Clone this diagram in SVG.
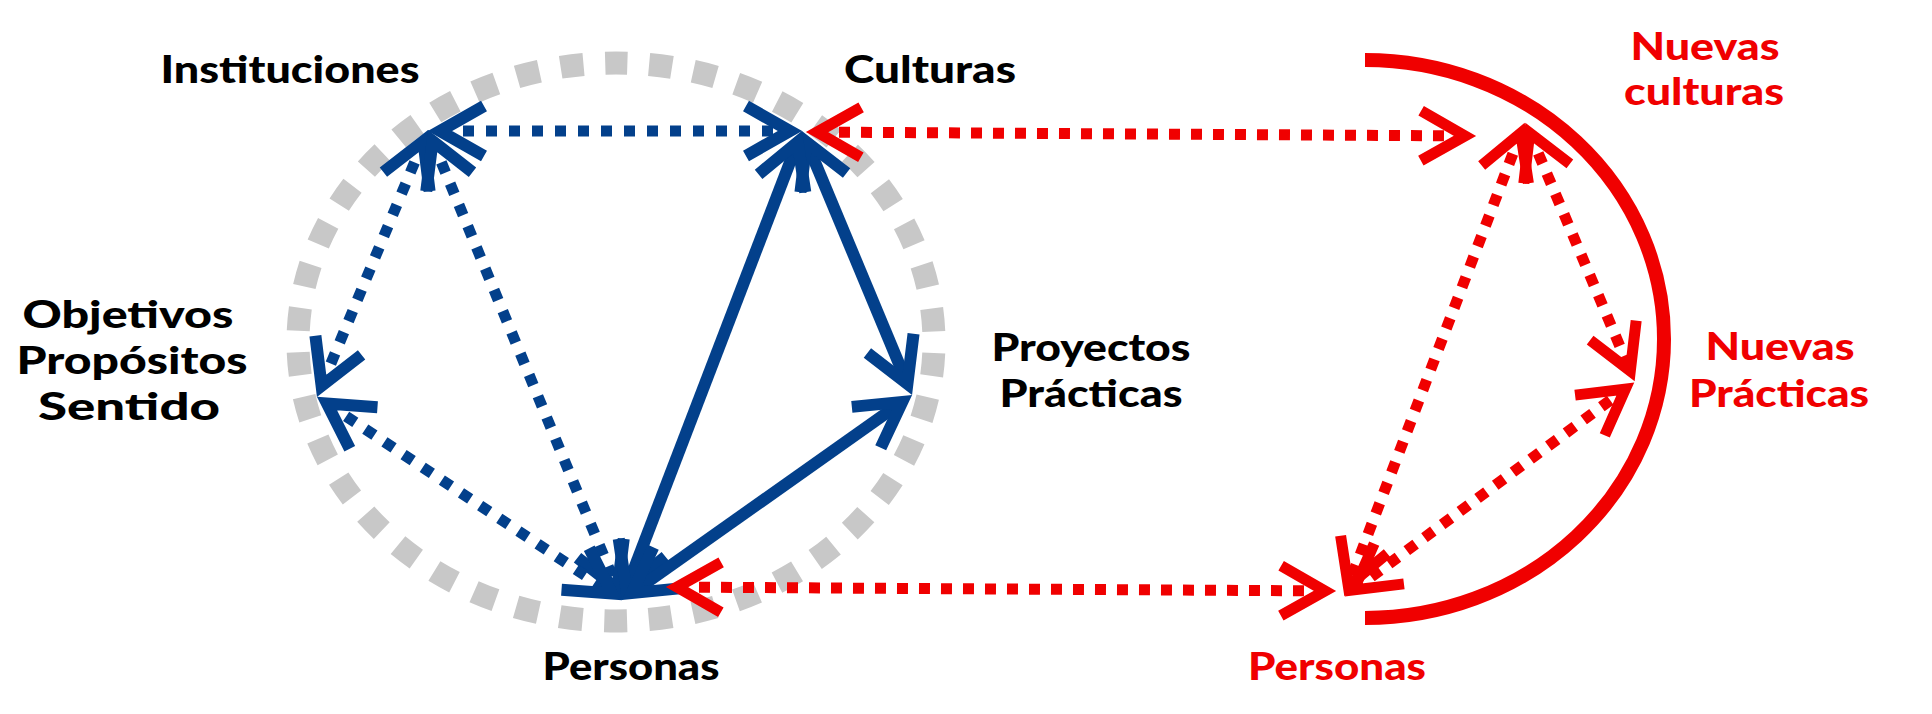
<svg xmlns="http://www.w3.org/2000/svg" width="1932" height="714" viewBox="0 0 1932 714">
<style>
.lbl{font-family:Lato,"Open Sans","Liberation Sans",sans-serif;font-weight:900;font-size:37px;text-anchor:middle}
.blk{fill:#000}
.red{fill:#f00000}
.bd{fill:none;stroke:#03408b;stroke-width:11;stroke-dasharray:11 12}
.bs{fill:none;stroke:#03408b;stroke-width:12}
.rd{fill:none;stroke:#f00000;stroke-width:11;stroke-dasharray:11 11}
</style>
<defs>
<marker id="hb" markerUnits="userSpaceOnUse" orient="auto-start-reverse" refX="0" refY="0" markerWidth="10" markerHeight="10" overflow="visible">
<path d="M-44,-25 L0,0 L-44,25" fill="none" stroke="#03408b" stroke-width="12" stroke-linejoin="miter"/>
</marker>
<marker id="hr" markerUnits="userSpaceOnUse" orient="auto-start-reverse" refX="0" refY="0" markerWidth="10" markerHeight="10" overflow="visible">
<path d="M-44,-25 L0,0 L-44,25" fill="none" stroke="#f00000" stroke-width="11" stroke-linejoin="miter"/>
</marker>
</defs>
<rect width="1932" height="714" fill="#fff"/>
<g id="ring">
<path d="M616,63 A318,279 0 1 1 616,621 A318,279 0 1 1 616,63 Z" fill="none" stroke="#c8c8c8" stroke-width="23" stroke-dasharray="23 21.7" stroke-dashoffset="11.5"/>
</g>
<g id="arc">
<path d="M1365,60 A299,279 0 0 1 1365,618" fill="none" stroke="#f00000" stroke-width="14"/>
</g>
<g id="connectors">
<line class="bd" x1="440" y1="131" x2="790" y2="131" marker-start="url(#hb)" marker-end="url(#hb)"/>
<line class="bd" x1="423.4" y1="141.1" x2="321.6" y2="385.9" marker-start="url(#hb)" marker-end="url(#hb)"/>
<line class="bd" x1="432.6" y1="141.1" x2="617.4" y2="588.9" marker-start="url(#hb)" marker-end="url(#hb)"/>
<line class="bd" x1="327" y1="403.6" x2="612" y2="593.4" marker-start="url(#hb)" marker-end="url(#hb)"/>
<line class="bs" x1="806.6" y1="142.1" x2="907.4" y2="383.9" marker-start="url(#hb)" marker-end="url(#hb)"/>
<line class="bs" x1="797.7" y1="142.2" x2="626.3" y2="588.8" marker-start="url(#hb)" marker-end="url(#hb)"/>
<line class="bs" x1="631.8" y1="593.1" x2="902.2" y2="401.9" marker-start="url(#hb)" marker-end="url(#hb)"/>
<line class="rd" x1="817" y1="132.1" x2="1465" y2="135.9" marker-start="url(#hr)" marker-end="url(#hr)"/>
<line class="rd" x1="677" y1="587.1" x2="1325" y2="590.9" marker-start="url(#hr)" marker-end="url(#hr)"/>
<line class="rd" x1="1529.7" y1="133.1" x2="1630.3" y2="370.9" marker-start="url(#hr)" marker-end="url(#hr)"/>
<line class="rd" x1="1520.7" y1="133.2" x2="1348.3" y2="585.8" marker-start="url(#hr)" marker-end="url(#hr)"/>
<line class="rd" x1="1353.7" y1="589.9" x2="1625.3" y2="389.1" marker-start="url(#hr)" marker-end="url(#hr)"/>
</g>
<g id="instituciones"><text class="lbl blk" x="290" y="83" textLength="259" lengthAdjust="spacingAndGlyphs">Instituciones</text></g>
<g id="culturas"><text class="lbl blk" x="930" y="83" textLength="172" lengthAdjust="spacingAndGlyphs">Culturas</text></g>
<g id="objetivos"><text class="lbl blk" x="128" y="328" textLength="211" lengthAdjust="spacingAndGlyphs">Objetivos</text><text class="lbl blk" x="132" y="374" textLength="231" lengthAdjust="spacingAndGlyphs">Propósitos</text><text class="lbl blk" x="129" y="420" textLength="182" lengthAdjust="spacingAndGlyphs">Sentido</text></g>
<g id="proyectos"><text class="lbl blk" x="1091" y="361" textLength="199" lengthAdjust="spacingAndGlyphs">Proyectos</text><text class="lbl blk" x="1091" y="407" textLength="183" lengthAdjust="spacingAndGlyphs">Prácticas</text></g>
<g id="personas"><text class="lbl blk" x="631" y="680" textLength="177" lengthAdjust="spacingAndGlyphs">Personas</text></g>
<g id="nuevas-culturas"><text class="lbl red" x="1705" y="60" textLength="149" lengthAdjust="spacingAndGlyphs">Nuevas</text><text class="lbl red" x="1704" y="105" textLength="160" lengthAdjust="spacingAndGlyphs">culturas</text></g>
<g id="nuevas-practicas"><text class="lbl red" x="1780" y="360" textLength="149" lengthAdjust="spacingAndGlyphs">Nuevas</text><text class="lbl red" x="1779" y="407" textLength="180" lengthAdjust="spacingAndGlyphs">Prácticas</text></g>
<g id="nuevas-personas"><text class="lbl red" x="1337" y="680" textLength="178" lengthAdjust="spacingAndGlyphs">Personas</text></g>
</svg>
